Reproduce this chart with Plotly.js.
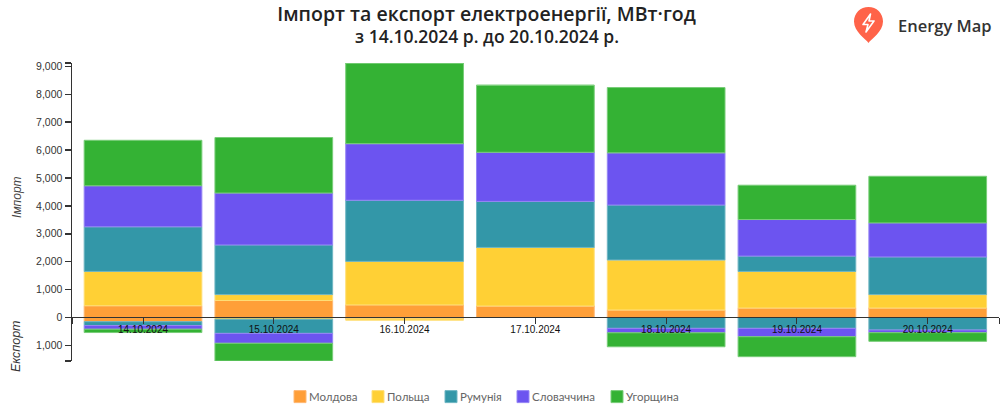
<!DOCTYPE html>
<html>
<head>
<meta charset="utf-8">
<script src="https://cdn.plot.ly/plotly-3.0.1.min.js"></script>
<style>
  html, body { margin: 0; padding: 0; background: #fff; }
  #wrap { position: relative; width: 1000px; height: 411px; overflow: hidden; }
  #logo { position: absolute; left: 853px; top: 6px; }
</style>
</head>
<body>
<div id="wrap">
  <div id="myDiv" style="width:1000px;height:411px"></div>
  <svg id="logo" width="31" height="38" viewBox="0 0 31 38">
    <path d="M15.5 37 C13 33 1 26 1 15.5 C1 7 7.5 1 15.5 1 C23.5 1 30 7 30 15.5 C30 26 18 33 15.5 37 Z" fill="#ff6349"/>
    <path d="M17.5 8 L10 18.5 L15 18.5 L13 26 L21 15 L16 15 Z" fill="none" stroke="#fff" stroke-width="1.6" stroke-linejoin="round"/>
  </svg>
</div>
<script>
var days = ['14.10.2024', '15.10.2024', '16.10.2024', '17.10.2024', '18.10.2024', '19.10.2024', '20.10.2024'];
var countries = ['Молдова', 'Польща', 'Румунія', 'Словаччина', 'Угорщина'];
var colors = ['#ff9f38', '#ffd035', '#3397a8', '#6c54f0', '#34b234'];
var edges = ['#ffb873', '#ffdf78', '#6fb6c3', '#9686f5', '#78cd78'];

var importMoldova = [420, 610, 450, 410, 270, 340, 340];
var importPoland = [1230, 210, 1560, 2100, 1790, 1310, 480];
var importRomania = [1600, 1780, 2190, 1650, 1970, 550, 1350];
var importSlovakia = [1470, 1860, 2030, 1760, 1870, 1310, 1220];
var importHungary = [1630, 1990, 2890, 2400, 2340, 1230, 1670];

var exportMoldova = [-150, 0, -50, 0, 0, 0, 0];
var exportPoland = [0, -60, -50, 0, 0, 0, 0];
var exportRomania = [-140, -510, 0, 0, -390, -390, -450];
var exportSlovakia = [-130, -355, 0, 0, -160, -300, -95];
var exportHungary = [-120, -635, 0, 0, -500, -715, -310];

var yTicks = [-1000, 0, 1000, 2000, 3000, 4000, 5000, 6000, 7000, 8000, 9000];
var yMin = -1560, yMax = 9120;
var xMin = -0.543, xMax = 6.545;

var imports = [importMoldova, importPoland, importRomania, importSlovakia, importHungary];
var exports_ = [exportMoldova, exportPoland, exportRomania, exportSlovakia, exportHungary];

var data = [];
countries.forEach(function (name, i) {
  var marker = { color: colors[i], line: { color: edges[i], width: 1 } };
  data.push({ type: 'bar', name: name, x: days, y: imports[i], marker: marker });
  data.push({ type: 'bar', name: name, x: days, y: exports_[i], marker: marker, showlegend: false });
});

var tickFont = { family: 'Liberation Sans, Arial, sans-serif', size: 10.5, color: '#333' };
var titleFont = 'Open Sans, Noto Sans, sans-serif';

// outer ticks at both axis ends, without a label
var yVals = [yMin].concat(yTicks, [yMax]);
var yText = [''].concat(yTicks.map(function (v) { return Math.abs(v).toLocaleString('en-US'); }), ['']);
var xVals = [xMin].concat(days.map(function (d, i) { return i; }), [xMax]);
var xText = [''].concat(days, ['']);

var layout = {
  width: 1000,
  height: 411,
  margin: { l: 72, r: 1, t: 63, b: 50 },
  paper_bgcolor: '#fff',
  plot_bgcolor: '#fff',
  barmode: 'relative',
  bargap: 0.1,
  title: {
    text: 'Імпорт та експорт електроенергії, МВт·год',
    font: { family: titleFont, size: 19.5, weight: 600, color: '#222' },
    x: 0.4865, xanchor: 'center', y: 0.965, yanchor: 'middle'
  },
  xaxis: {
    type: 'category',
    range: [xMin, xMax],
    anchor: 'free',
    position: -yMin / (yMax - yMin),
    tickmode: 'array',
    tickvals: xVals,
    ticktext: xText,
    ticks: 'outside',
    ticklen: 6,
    tickcolor: '#333',
    tickwidth: 1,
    ticklabelstandoff: -3,
    showline: true,
    linecolor: '#333',
    linewidth: 1,
    showgrid: false,
    zeroline: false,
    tickangle: 0,
    tickfont: { family: 'Liberation Sans, Arial, sans-serif', size: 10, color: '#111' }
  },
  yaxis: {
    range: [yMin, yMax],
    tickmode: 'array',
    tickvals: yVals,
    ticktext: yText,
    ticks: 'outside',
    ticklen: 6,
    tickcolor: '#333',
    tickwidth: 1.5,
    showline: true,
    linecolor: '#333',
    linewidth: 1.5,
    showgrid: false,
    zeroline: false,
    tickfont: tickFont
  },
  legend: {
    orientation: 'h',
    xref: 'container', yref: 'container',
    x: 0.486, xanchor: 'center',
    y: 0.035, yanchor: 'middle',
    traceorder: 'normal',
    font: { family: 'Lato, Noto Sans, sans-serif', size: 11.5, color: '#666' }
  },
  annotations: [
    {
      text: 'з 14.10.2024 р. до 20.10.2024 р.',
      xref: 'paper', yref: 'paper', yanchor: 'middle', x: 0.4475, y: 1.09,
      showarrow: false, font: { family: titleFont, size: 17.5, weight: 600, color: '#222' }
    },
    {
      text: '<i>Імпорт</i>',
      xref: 'paper', yref: 'paper', x: -0.0692, y: 0.55, textangle: -90,
      showarrow: false, font: { family: 'Liberation Sans, Arial, sans-serif', size: 12, color: '#444' }
    },
    {
      text: '<i>Експорт</i>',
      xref: 'paper', yref: 'paper', x: -0.0702, y: -0.044, textangle: -90,
      showarrow: false, font: { family: 'Liberation Sans, Arial, sans-serif', size: 12.5, color: '#333' }
    },
    {
      text: 'Energy Map',
      xref: 'paper', yref: 'paper', xanchor: 'left', x: 0.889, y: 1.17,
      showarrow: false, font: { family: titleFont, size: 16.5, weight: 600, color: '#333' }
    }
  ]
};

// the legend in the reference sits tighter than plotly's own spacing
var legendLeft = [294, 372, 445, 517, 611];

Plotly.newPlot('myDiv', data, layout, { displayModeBar: false, staticPlot: true }).then(function () {
  document.querySelectorAll('#myDiv .legend .traces').forEach(function (el, i) {
    var swatch = el.querySelector('.legendpoints path');
    var label = el.querySelector('.legendtext');
    var dx = legendLeft[i] - swatch.getBoundingClientRect().left;
    var t = el.getAttribute('transform').match(/translate\(([-\d.]+),\s*([-\d.]+)\)/);
    el.setAttribute('transform', 'translate(' + (parseFloat(t[1]) + dx) + ',' + t[2] + ')');
    label.setAttribute('x', parseFloat(label.getAttribute('x')) - 11);
    label.querySelectorAll('tspan').forEach(function (s) {
      if (s.getAttribute('x')) s.setAttribute('x', parseFloat(s.getAttribute('x')) - 11);
    });
  });
});
</script>
</body>
</html>
